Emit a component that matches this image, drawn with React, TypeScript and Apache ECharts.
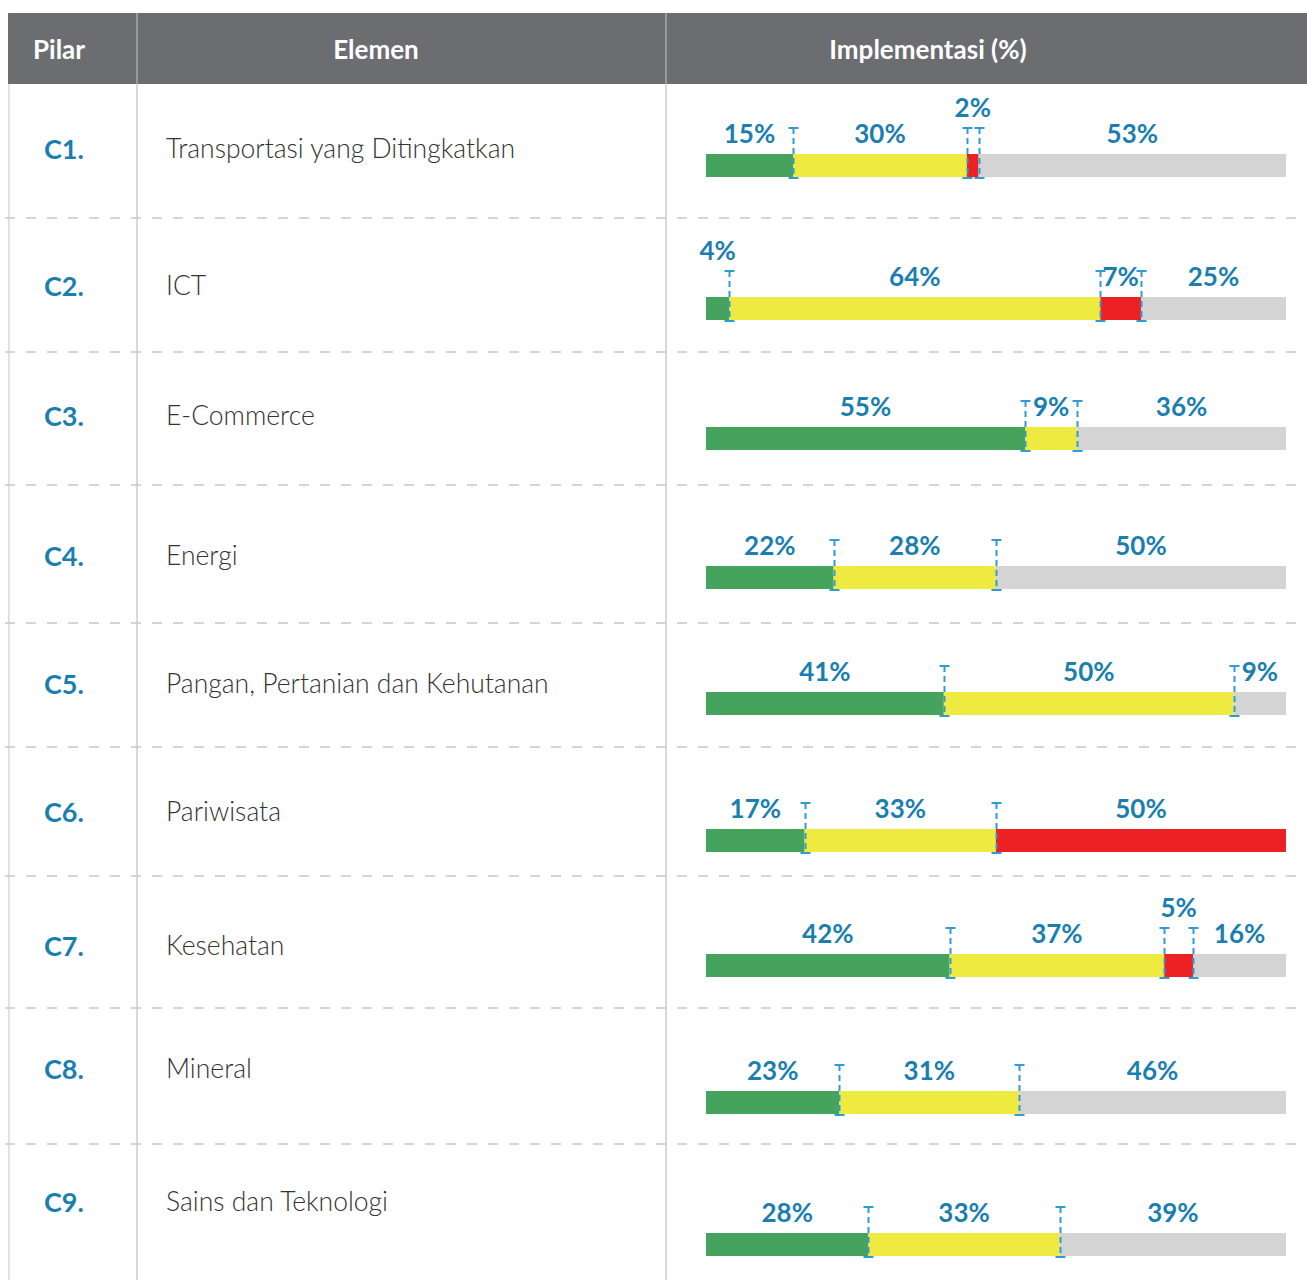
import React, { useEffect, useRef } from "react";
import * as echarts from "echarts";

// ---- data ----
const pillars = ["C1.", "C2.", "C3.", "C4.", "C5.", "C6.", "C7.", "C8.", "C9."];
const elements = [
  "Transportasi yang Ditingkatkan",
  "ICT",
  "E-Commerce",
  "Energi",
  "Pangan, Pertanian dan Kehutanan",
  "Pariwisata",
  "Kesehatan",
  "Mineral",
  "Sains dan Teknologi",
];
const headers = ["Pilar", "Elemen", "Implementasi (%)"];
const greenVals = [15, 4, 55, 22, 41, 17, 42, 23, 28];
const yellowVals = [30, 64, 9, 28, 50, 33, 37, 31, 33];
const redVals = [2, 7, 0, 0, 0, 50, 5, 0, 0];
const grayVals = [53, 25, 36, 50, 9, 0, 16, 46, 39];

// ---- layout (positions / styles) ----
const W = 1307;
const H = 1280;
const headerTop = 13;
const headerBottom = 84;
const colLines = [137, 666];
const headerCenters = [59, 376, 928];
const rowSeparators = [218, 352, 485, 623, 747, 876, 1008, 1144];
const rowTextY = [148, 285, 415, 555, 683, 811, 945, 1068, 1201];
const barCenters = [165.5, 308.5, 438.5, 577.5, 703.5, 840.5, 965.5, 1102.5, 1244.5];
const barLeft = 706;
const barRight = 21;
const barW = 23;
const segColors = ["#46a35d", "#eeea40", "#ed2024", "#d4d4d4"];
const labelBlue = "#1a7fb0";
const markerBlue = "#2e9bd6";
const FONT = "Lato, 'Open Sans', 'DejaVu Sans', sans-serif";

export default function App() {
  const ref = useRef<HTMLDivElement>(null);
  useEffect(() => {
    if (!ref.current) return;
    const chart = echarts.init(ref.current, undefined, { renderer: "svg" });
    const segs = [greenVals, yellowVals, redVals, grayVals];
    const grids: any[] = [];
    const xAxes: any[] = [];
    const yAxes: any[] = [];
    const series: any[] = [];
    const gh = 60;
    pillars.forEach((p, i) => {
      grids.push({ left: barLeft, right: barRight, top: barCenters[i] - gh / 2, height: gh });
      xAxes.push({ type: "value", gridIndex: i, min: 0, max: 100, show: false });
      yAxes.push({ type: "category", gridIndex: i, data: [p], show: false });
      segs.forEach((arr, s) => {
        const v = arr[i];
        series.push({
          type: "bar",
          xAxisIndex: i,
          yAxisIndex: i,
          stack: "row" + i,
          barWidth: barW,
          itemStyle: { color: segColors[s] },
          data: [
            {
              value: v,
              label: {
                show: v > 0,
                offset: [0, v <= 5 ? -26 : 0],
              },
            },
          ],
          label: {
            show: v > 0,
            position: "top",
            distance: 8,
            formatter: (d: any) => d.value + "%",
            color: labelBlue,
            fontFamily: FONT,
            fontWeight: "bold",
            fontSize: 26,
          },
        });
      });
      const cums = [greenVals[i], greenVals[i] + yellowVals[i], greenVals[i] + yellowVals[i] + redVals[i]];
      const bounds = cums.filter((c, k) => c > 0 && c < 100 && cums.indexOf(c) === k);
      series.push({
        type: "custom",
        xAxisIndex: i,
        yAxisIndex: i,
        z: 10,
        data: bounds.map((b) => [b, 0]),
        encode: { x: 0, y: 1 },
        renderItem: (params: any, api: any) => {
          const pt = api.coord([api.value(0), 0]);
          const x = Math.round(pt[0]) + 0.5;
          const cy = pt[1];
          const top = cy - barW / 2 - 26;
          const bot = cy + barW / 2 + 1;
          const st = { stroke: markerBlue, lineWidth: 2 };
          return {
            type: "group",
            children: [
              { type: "line", shape: { x1: x, y1: top, x2: x, y2: bot }, style: { ...st, lineDash: [6, 4] } },
              { type: "line", shape: { x1: x - 5, y1: top, x2: x + 5, y2: top }, style: st },
              { type: "line", shape: { x1: x - 5, y1: bot, x2: x + 5, y2: bot }, style: st },
            ],
          };
        },
      });
    });

    const graphic: any[] = [];
    graphic.push({
      type: "rect",
      shape: { x: 8, y: headerTop, width: W - 8, height: headerBottom - headerTop },
      style: { fill: "#6c6d71" },
    });
    colLines.forEach((x) => {
      graphic.push({
        type: "line",
        shape: { x1: x, y1: headerTop, x2: x, y2: headerBottom },
        style: { stroke: "#a9aaad", lineWidth: 1.5 },
      });
      graphic.push({
        type: "line",
        shape: { x1: x, y1: headerBottom, x2: x, y2: H },
        style: { stroke: "#cccccc", lineWidth: 1.5 },
      });
    });
    graphic.push({
      type: "line",
      shape: { x1: 9, y1: headerBottom, x2: 9, y2: H },
      style: { stroke: "#e2e2e2", lineWidth: 2 },
    });
    rowSeparators.forEach((y) => {
      graphic.push({
        type: "line",
        shape: { x1: 5, y1: y, x2: W, y2: y },
        style: { stroke: "#c8c8c8", lineWidth: 1.5, lineDash: [10, 11] },
      });
    });
    headers.forEach((h, k) => {
      graphic.push({
        type: "text",
        x: headerCenters[k],
        y: (headerTop + headerBottom) / 2,
        style: {
          text: h,
          fill: "#ffffff",
          font: `bold 26px ${FONT}`,
          align: "center",
          verticalAlign: "middle",
        },
      });
    });
    pillars.forEach((p, i) => {
      graphic.push({
        type: "text",
        x: 44,
        y: rowTextY[i],
        style: {
          text: p,
          fill: labelBlue,
          font: `bold 27px ${FONT}`,
          align: "left",
          verticalAlign: "middle",
        },
      });
      graphic.push({
        type: "text",
        x: 166,
        y: rowTextY[i],
        style: {
          text: elements[i],
          fill: "#333333",
          font: `300 26.5px ${FONT}`,
          align: "left",
          verticalAlign: "middle",
        },
      });
    });

    chart.setOption({
      animation: false,
      backgroundColor: "#ffffff",
      grid: grids,
      xAxis: xAxes,
      yAxis: yAxes,
      series,
      graphic,
    });
    return () => chart.dispose();
  }, []);
  return (
    <div
      ref={ref}
      style={{ position: "absolute", left: 0, top: 0, width: W, height: H }}
    />
  );
}
